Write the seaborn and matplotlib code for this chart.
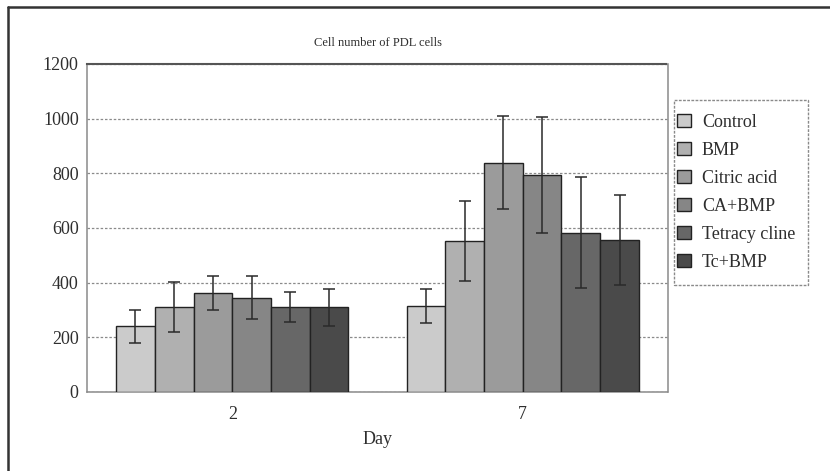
import matplotlib
matplotlib.use("Agg")
import matplotlib.pyplot as plt
import seaborn as sns
import pandas as pd
from matplotlib.lines import Line2D
from matplotlib.patches import Rectangle

# Mean cell counts (and error) per treatment on each day
days = ["2", "7"]
treatments = ["Control", "BMP", "Citric acid", "CA+BMP", "Tetracy cline", "Tc+BMP"]
day2_mean = [240, 310, 363, 345, 312, 310]
day2_err = [60, 92, 63, 78, 55, 68]
day7_mean = [315, 552, 839, 794, 582, 555]
day7_err = [63, 145, 170, 213, 203, 165]
yticks = [0, 200, 400, 600, 800, 1000, 1200]

colors = ["#cbcbcb", "#b0b0b0", "#9b9b9b", "#868686", "#676767", "#4a4a4a"]

rows = []
for t, m2, m7 in zip(treatments, day2_mean, day7_mean):
    rows.append({"Day": "2", "Treatment": t, "Cells": m2})
    rows.append({"Day": "7", "Treatment": t, "Cells": m7})
df = pd.DataFrame(rows)
errs = {"2": day2_err, "7": day7_err}

sns.set_theme(style="white")
plt.rcParams["font.family"] = ["Liberation Serif", "DejaVu Serif"]
text_color = "#2e2e2e"
W, H = 830, 471

fig = plt.figure(figsize=(8.30, 4.71), dpi=100)
ax = fig.add_axes([87 / W, 1 - 392 / H, (668 - 87) / W, (392 - 64) / H])

sns.barplot(data=df, x="Day", y="Cells", hue="Treatment", order=days,
            hue_order=treatments, palette=colors, errorbar=None, width=0.8,
            edgecolor="#222222", linewidth=1.0, saturation=1, ax=ax, zorder=3)

# Error bars on top of each bar
bar_containers = list(ax.containers)
for i, cont in enumerate(bar_containers):
    for j, bar in enumerate(cont.patches):
        x = bar.get_x() + bar.get_width() / 2
        y = bar.get_height()
        ax.errorbar(x, y, yerr=errs[days[j]][i], fmt="none", ecolor="#2a2a2a",
                    elinewidth=1.1, capsize=4.5, capthick=1.1, zorder=4)

ax.set_ylim(0, 1200)
ax.set_xlim(-0.5, 1.5)
ax.set_yticks(yticks)
ax.set_yticklabels([str(v) for v in yticks], fontsize=13, color=text_color)
ax.set_xticks([0, 1])
ax.set_xticklabels(days, fontsize=13, color=text_color)
ax.set_xticks([0.5], minor=True)
ax.tick_params(axis="x", which="major", length=0, pad=10)
ax.tick_params(axis="x", which="minor", direction="in", length=6, color="#444444", width=1.2)
ax.tick_params(axis="y", which="major", length=4, width=1, color="#888888", pad=2)

ax.yaxis.grid(True, linestyle=(0, (2, 1.5)), color="#8a8a8a", linewidth=0.9, zorder=0)
ax.set_axisbelow(True)
for name, sp in ax.spines.items():
    sp.set_color("#8a8a8a")
    sp.set_linewidth(1.1)
    sp.set_linestyle((0, (2, 1)))
ax.spines["top"].set_color("#555555")
ax.spines["top"].set_linewidth(1.5)

ax.set_title("Cell number of PDL cells", fontsize=9, color=text_color, pad=13)
ax.set_xlabel("Day", fontsize=13, color=text_color, labelpad=6)
ax.set_ylabel("")

# Legend entries without their own frame; the box is drawn separately
leg = ax.legend(loc="upper left", bbox_to_anchor=(673 / W, 1 - 110 / H),
                bbox_transform=fig.transFigure, borderaxespad=0, fontsize=13,
                handlelength=0.8, handleheight=0.8, handletextpad=0.6,
                labelspacing=0.6, borderpad=0.2, frameon=False)
for txt in leg.get_texts():
    txt.set_color(text_color)
fig.add_artist(Rectangle((674 / W, 1 - 285 / H), 134 / W, 185 / H,
                         transform=fig.transFigure, fill=False,
                         edgecolor="#8a8a8a", linewidth=1.0, linestyle=(0, (2, 1))))

# Frame lines along the top and left edges of the figure
fig.add_artist(Line2D([8 / W, 1.0], [1 - 7 / H, 1 - 7 / H], color="#333333",
                      linewidth=1.8, transform=fig.transFigure))
fig.add_artist(Line2D([8 / W, 8 / W], [0.0, 1 - 7 / H], color="#333333",
                      linewidth=1.8, transform=fig.transFigure))

fig.savefig("out.png", dpi=100)
